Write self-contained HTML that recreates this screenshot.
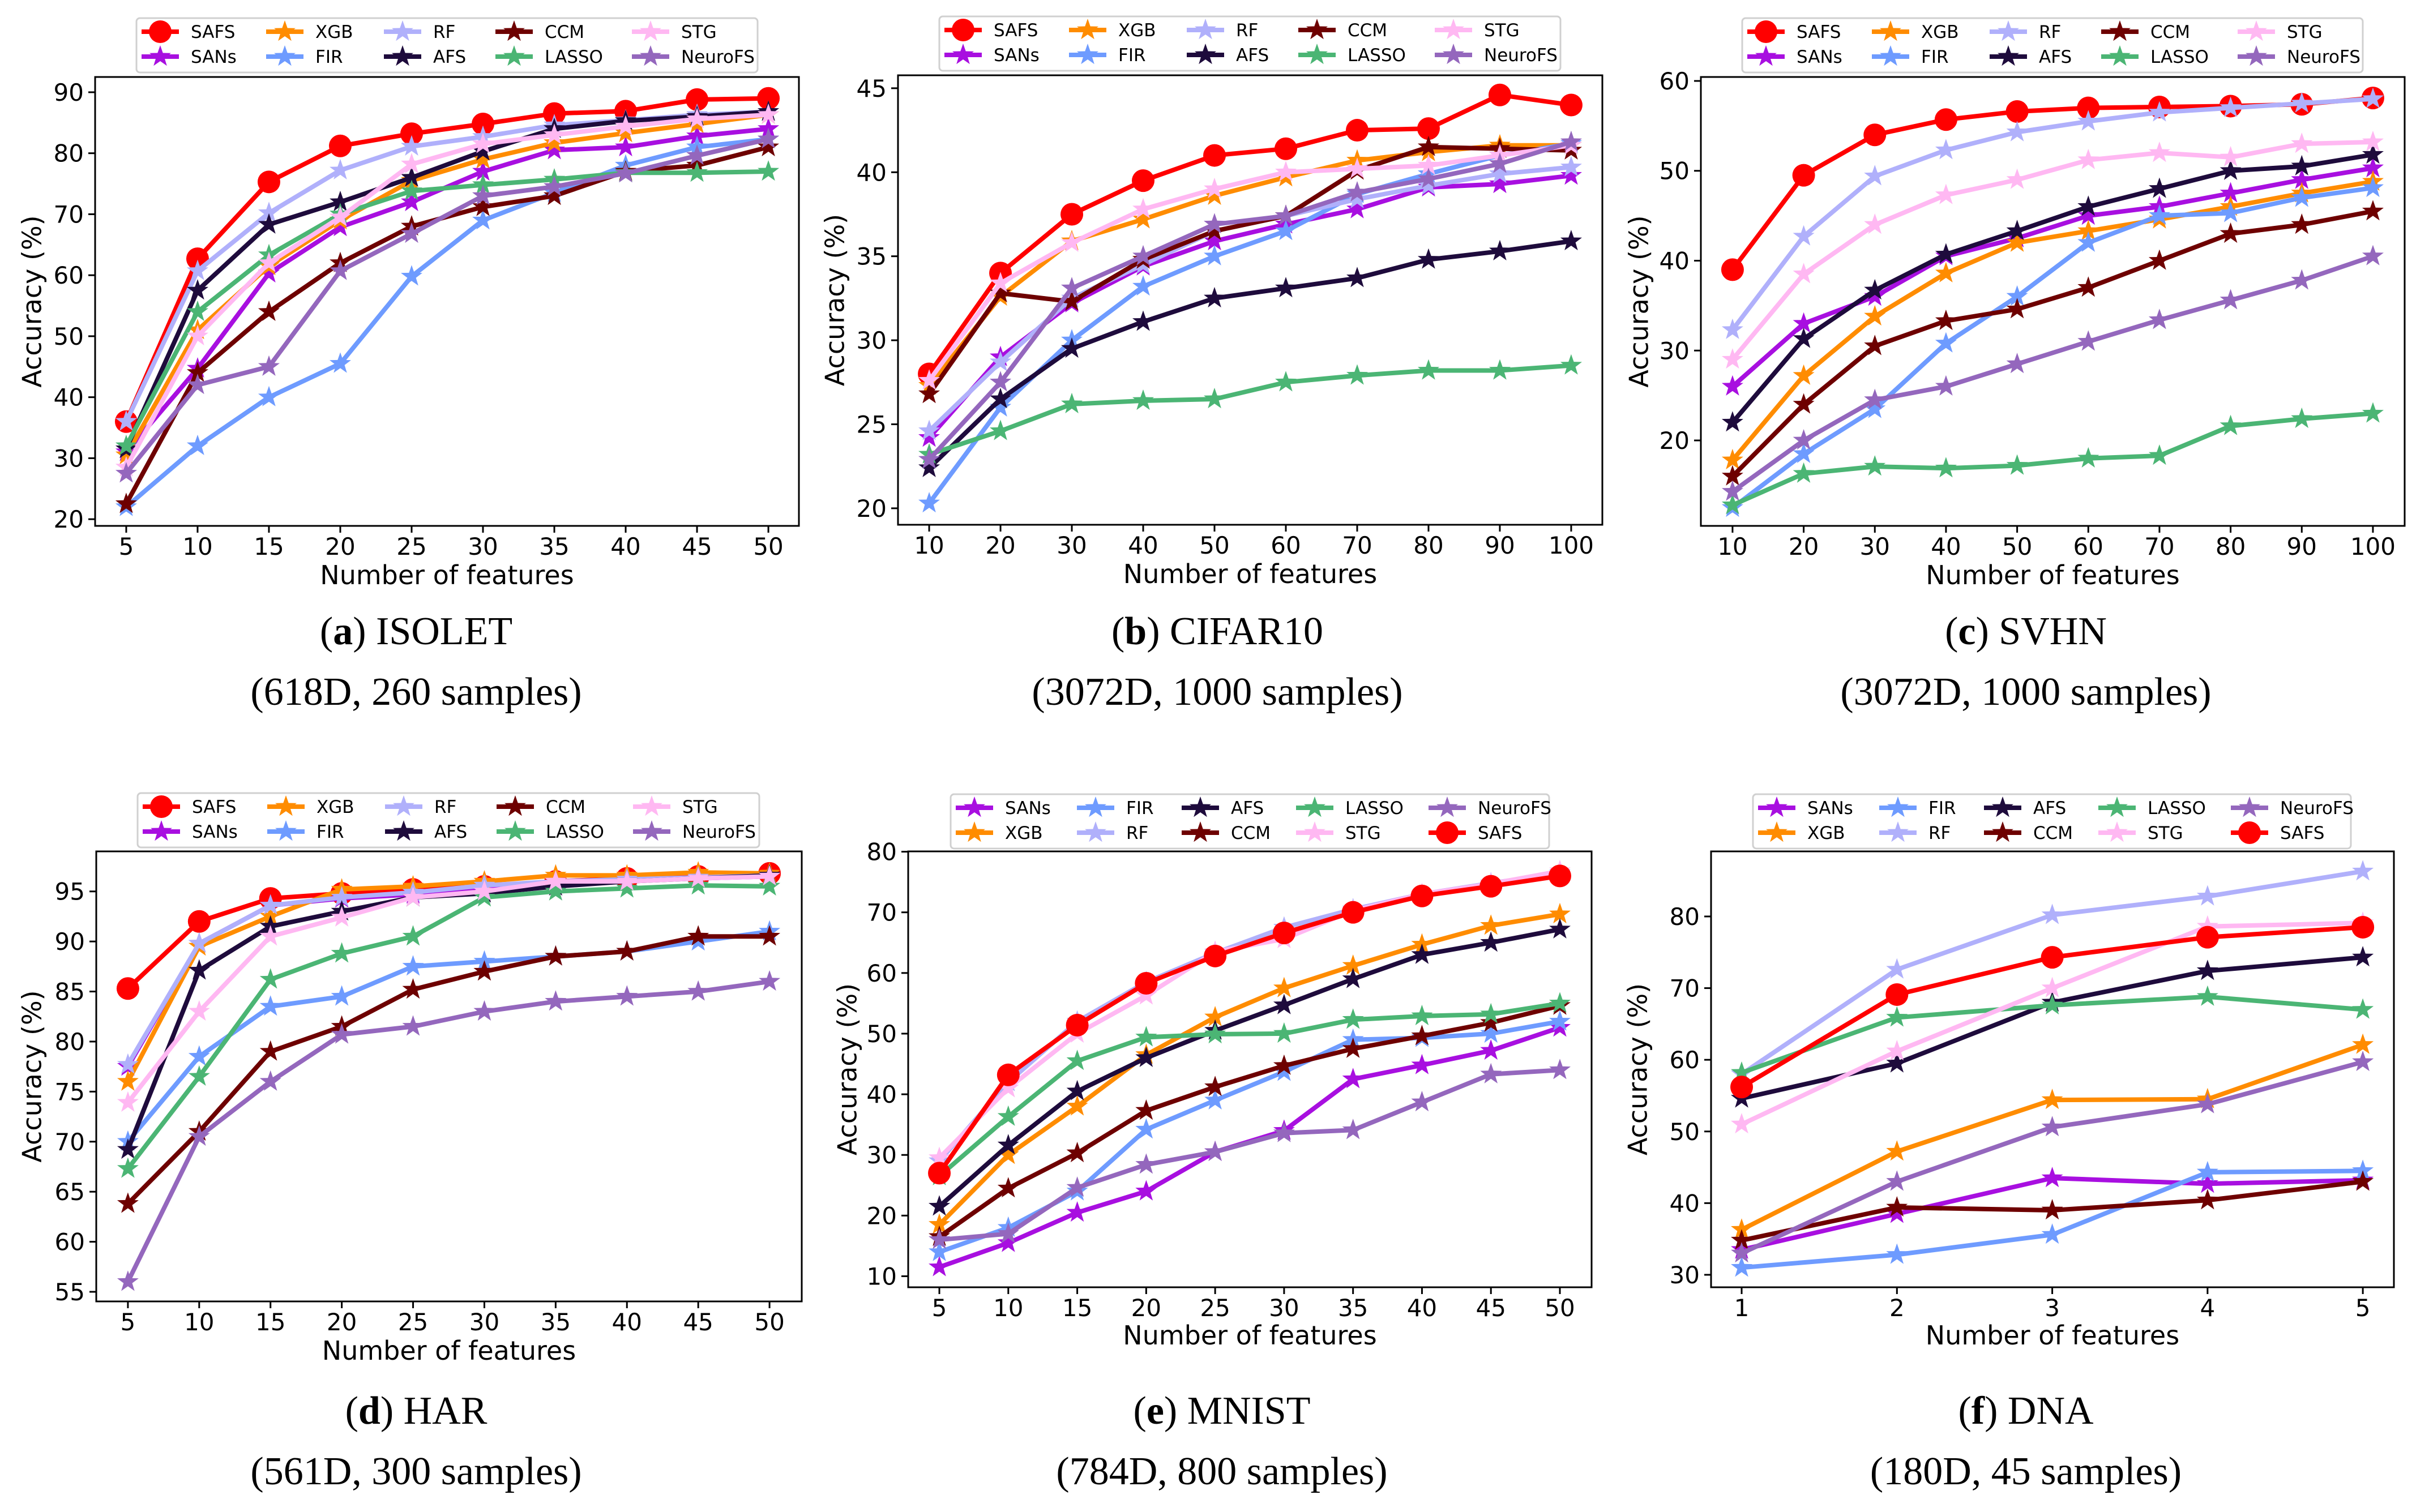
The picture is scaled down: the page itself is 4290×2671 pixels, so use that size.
<!DOCTYPE html>
<html><head><meta charset="utf-8">
<style>
html,body{margin:0;padding:0;background:#fff;}
svg{display:block;}
</style></head>
<body>
<svg id="fig" xmlns="http://www.w3.org/2000/svg" width="4290" height="2671" viewBox="0 0 4290 2671"></svg>
<script>
// ---------- DATA ----------
const methodNames = ["SAFS","SANs","XGB","FIR","RF","AFS","CCM","LASSO","STG","NeuroFS"];
const xFeat50 = [5,10,15,20,25,30,35,40,45,50];
const xFeat100 = [10,20,30,40,50,60,70,80,90,100];
const xFeat5 = [1,2,3,4,5];

// (a) ISOLET
const aSAFS = [36,62.7,75.3,81.2,83.2,84.8,86.5,86.9,88.8,89.0];
const aSANs = [31,44.7,60.3,67.9,72,77,80.5,81,82.8,84];
const aXGB = [30.5,51,61.5,69,75.5,79,81.7,83.3,84.8,86.3];
const aFIR = [22,32,40,45.5,59.8,69,73.5,78,81,82.3];
const aRF = [36,60.7,70.2,77.2,81.1,82.7,84.6,85.4,86.3,86.8];
const aAFS = [31.5,57.5,68.3,72,76,80.3,84,85.3,86,86.8];
const aCCM = [22.5,44,54,62,68,71.2,73,77,78,81];
const aLASSO = [32,54,63.3,70,73.8,74.8,75.7,76.8,76.8,77];
const aSTG = [28.5,50,62,69.5,78.2,81.5,83,84.4,85.6,86.3];
const aNeuroFS = [27.5,42,45,60.7,66.8,73,74.5,76.7,79.6,82.3];
const aTicks = [20,30,40,50,60,70,80,90];

// (b) CIFAR10
const bSAFS = [28,34,37.5,39.5,41,41.4,42.5,42.6,44.6,44];
const bSANs = [24.2,29,32.2,34.4,35.9,36.9,37.8,39.1,39.3,39.8];
const bXGB = [27.3,32.6,35.9,37.2,38.6,39.7,40.7,41.2,41.6,41.6];
const bFIR = [20.3,26,30,33.2,35,36.5,38.7,39.9,41.0,41.7];
const bRF = [24.6,28.7,32.5,34.5,36.5,37.4,38.4,39.2,39.9,40.3];
const bAFS = [22.4,26.5,29.5,31.1,32.5,33.1,33.7,34.8,35.3,35.9];
const bCCM = [26.8,32.8,32.3,34.8,36.5,37.4,40.1,41.5,41.4,41.3];
const bLASSO = [23.2,24.6,26.2,26.4,26.5,27.5,27.9,28.2,28.2,28.5];
const bSTG = [27.6,33.4,35.8,37.8,39.0,40.0,40.2,40.4,41.0,41.6];
const bNeuroFS = [22.9,27.5,33.1,35.0,36.9,37.4,38.8,39.6,40.5,41.8];
const bTicks = [20,25,30,35,40,45];

// (c) SVHN
const cSAFS = [39,49.5,54,55.7,56.6,57,57.1,57.2,57.4,58.1];
const cSANs = [26,33,36,40.5,42.5,45,46,47.5,49,50.3];
const cXGB = [17.8,27.2,33.8,38.6,42,43.3,44.6,46,47.5,48.8];
const cFIR = [12.5,18.5,23.5,30.8,36,42,45,45.3,47,48.1];
const cRF = [32.3,42.7,49.4,52.3,54.3,55.5,56.5,57,57.5,58];
const cAFS = [22,31.3,36.7,40.7,43.3,46,48,50,50.5,51.8];
const cCCM = [16,24,30.5,33.3,34.6,37,40,43,44,45.5];
const cLASSO = [12.8,16.3,17.1,16.9,17.2,18,18.3,21.6,22.4,23];
const cSTG = [29,38.5,44,47.3,49,51.2,52,51.5,53,53.2];
const cNeuroFS = [14.3,20,24.5,26,28.5,31,33.4,35.6,37.8,40.5];
const cTicks = [20,30,40,50,60];

// (d) HAR
const dSAFS = [85.3,92,94.3,94.8,95.2,95.5,96,96.3,96.5,96.8];
const dSANs = [77.5,89.8,93.6,94.3,94.7,95.4,96,96.2,96.3,96.5];
const dXGB = [76,89.5,92.5,95.2,95.5,96,96.6,96.6,96.9,96.8];
const dFIR = [70,78.5,83.5,84.5,87.5,88,88.5,89,90,91];
const dRF = [77.7,89.8,93.6,94.4,94.9,95.6,96,96.2,96.4,96.6];
const dAFS = [69.2,87.1,91.5,93,94.4,94.8,95.5,96,96.3,96.6];
const dCCM = [63.8,71,79,81.5,85.2,87,88.5,89,90.5,90.5];
const dLASSO = [67.3,76.5,86.2,88.8,90.5,94.4,95,95.3,95.6,95.5];
const dSTG = [73.9,83,90.5,92.4,94.4,95,96,96,96.3,96.5];
const dNeuroFS = [56,70.5,76,80.7,81.5,83,84,84.5,85,86];
const dTicks = [55,60,65,70,75,80,85,90,95];

// (e) MNIST
const eSANs = [11.5,15.5,20.5,24,30.5,34,42.5,44.8,47.2,51];
const eXGB = [18.5,30,38,46.5,52.7,57.5,61.2,64.7,67.8,69.7];
const eFIR = [14,18,24,34.2,39,43.7,49,49.3,50,52];
const eRF = [29,42,52,58.5,63.3,67.5,70.5,73,74.8,76.5];
const eAFS = [21.5,31.6,40.5,46,50.5,54.7,59,63,65,67.2];
const eCCM = [16.5,24.5,30.3,37.3,41.2,44.7,47.5,49.6,51.8,54.6];
const eLASSO = [26.5,36.3,45.5,49.4,49.9,50,52.3,52.9,53.2,55];
const eSTG = [29.5,41,50,56.3,63.5,65.6,70.3,73,74.7,76.8];
const eNeuroFS = [16,17,24.6,28.4,30.5,33.6,34.1,38.7,43.3,44];
const eSAFS = [27,43.2,51.4,58.3,62.8,66.6,70,72.7,74.3,76];
const eTicks = [10,20,30,40,50,60,70,80];

// (f) DNA
const fSANs = [33.5,38.5,43.5,42.7,43.2];
const fXGB = [36.3,47.2,54.4,54.5,62.1];
const fFIR = [31,32.8,35.6,44.3,44.5];
const fRF = [58,72.6,80.2,82.8,86.3];
const fAFS = [54.6,59.5,68,72.4,74.3];
const fCCM = [34.8,39.4,39,40.4,43];
const fLASSO = [58.2,65.9,67.6,68.8,67];
const fSTG = [51,61.2,70,78.6,79.1];
const fNeuroFS = [33,43,50.6,53.8,59.7];
const fSAFS = [56.2,69.1,74.3,77.1,78.5];
const fTicks = [30,40,50,60,70,80];

// ---------- STYLE ----------
const colors = {SAFS:"#ff0000",SANs:"#a80fe0",XGB:"#ff8c00",FIR:"#6e9bff",RF:"#b0b0fb",
  AFS:"#1e0b3c",CCM:"#6e0000",LASSO:"#4bb574",STG:"#ffb8f2",NeuroFS:"#9467bd"};

const NS="http://www.w3.org/2000/svg";
const svg=document.getElementById('fig');
function mk(tag,attrs,parent){const e=document.createElementNS(NS,tag);for(const k in attrs)e.setAttribute(k,attrs[k]);(parent||svg).appendChild(e);return e;}
function starPts(cx,cy,R){const r=R*0.4;let p=[];for(let i=0;i<10;i++){const a=-Math.PI/2+i*Math.PI/5;const rr=i%2?r:R;p.push((cx+rr*Math.cos(a)).toFixed(1)+","+(cy+rr*Math.sin(a)).toFixed(1));}return p.join(" ");}
function marker(g,name,cx,cy){
  if(name==="SAFS"){const c=mk('circle',{cx:cx,cy:cy,r:20,fill:colors[name]},g);
    
    return c;}
  const s=mk('polygon',{points:starPts(cx,cy,20),fill:colors[name]},g);
  
  return s;
}
const FONT='"DejaVu Sans","Liberation Sans",sans-serif';

const orderTop=["SAFS","SANs","XGB","FIR","RF","AFS","CCM","LASSO","STG","NeuroFS"];
const orderBot=["SANs","XGB","FIR","RF","AFS","CCM","LASSO","STG","NeuroFS","SAFS"];

const panels=[
 {id:'a',title:'ISOLET',sub:'(618D, 260 samples)',x:xFeat50,series:{SAFS:aSAFS,SANs:aSANs,XGB:aXGB,FIR:aFIR,RF:aRF,AFS:aAFS,CCM:aCCM,LASSO:aLASSO,STG:aSTG,NeuroFS:aNeuroFS},ticks:aTicks,
  L:168,R:1411,T:136,B:929,xd:[2.82,52.14],yd:[18.9,92.5],order:orderTop,leg:[241,32,1097],cols:[9,229,437,634,875],ylab:60,tickY:965,xlabY:1032,capX:735,capY:1138},
 {id:'b',title:'CIFAR10',sub:'(3072D, 1000 samples)',x:xFeat100,series:{SAFS:bSAFS,SANs:bSANs,XGB:bXGB,FIR:bFIR,RF:bRF,AFS:bAFS,CCM:bCCM,LASSO:bLASSO,STG:bSTG,NeuroFS:bNeuroFS},ticks:bTicks,
  L:1586,R:2830,T:133,B:927,xd:[5.63,104.37],yd:[19.02,45.77],order:orderTop,leg:[1659,29,1097],cols:[9,229,437,634,875],ylab:1478,tickY:963,xlabY:1030,capX:2150,capY:1138},
 {id:'c',title:'SVHN',sub:'(3072D, 1000 samples)',x:xFeat100,series:{SAFS:cSAFS,SANs:cSANs,XGB:cXGB,FIR:cFIR,RF:cRF,AFS:cAFS,CCM:cCCM,LASSO:cLASSO,STG:cSTG,NeuroFS:cNeuroFS},ticks:cTicks,
  L:3004,R:4247,T:136,B:929,xd:[5.55,104.46],yd:[10.49,60.44],order:orderTop,leg:[3077,32,1096],cols:[9,229,437,634,875],ylab:2898,tickY:965,xlabY:1032,capX:3578,capY:1138},
 {id:'d',title:'HAR',sub:'(561D, 300 samples)',x:xFeat50,series:{SAFS:dSAFS,SANs:dSANs,XGB:dXGB,FIR:dFIR,RF:dRF,AFS:dAFS,CCM:dCCM,LASSO:dLASSO,STG:dSTG,NeuroFS:dNeuroFS},ticks:dTicks,
  L:170,R:1416,T:1504,B:2299,xd:[2.78,52.26],yd:[54.04,99.0],order:orderTop,leg:[243,1401,1098],cols:[9,229,437,634,875],ylab:60,tickY:2335,xlabY:2402,capX:735,capY:2515},
 {id:'e',title:'MNIST',sub:'(784D, 800 samples)',x:xFeat50,series:{SANs:eSANs,XGB:eXGB,FIR:eFIR,RF:eRF,AFS:eAFS,CCM:eCCM,LASSO:eLASSO,STG:eSTG,NeuroFS:eNeuroFS,SAFS:eSAFS},ticks:eTicks,
  L:1604,R:2811,T:1504,B:2274,xd:[2.74,52.30],yd:[8.18,80.05],order:orderBot,leg:[1679,1403,1057],cols:[9,223,408,610,844],ylab:1500,tickY:2310,xlabY:2375,capX:2158,capY:2515},
 {id:'f',title:'DNA',sub:'(180D, 45 samples)',x:xFeat5,series:{SANs:fSANs,XGB:fXGB,FIR:fFIR,RF:fRF,AFS:fAFS,CCM:fCCM,LASSO:fLASSO,STG:fSTG,NeuroFS:fNeuroFS,SAFS:fSAFS},ticks:fTicks,
  L:3022,R:4228,T:1504,B:2274,xd:[0.803,5.2],yd:[28.26,89.08],order:orderBot,leg:[3096,1403,1056],cols:[9,223,408,610,844],ylab:2896,tickY:2310,xlabY:2375,capX:3578,capY:2515}
];

panels.forEach(p=>{
  const g=mk('g',{});
  
  
  const sx=v=>p.L+(v-p.xd[0])/(p.xd[1]-p.xd[0])*(p.R-p.L);
  const sy=v=>p.B-(v-p.yd[0])/(p.yd[1]-p.yd[0])*(p.B-p.T);
  p.order.forEach(name=>{
    const vals=p.series[name];
    const sg=mk('g',{},g);
    
    
    const pts=vals.map((v,i)=>sx(p.x[i]).toFixed(1)+','+sy(v).toFixed(1)).join(' ');
    const pl=mk('polyline',{points:pts,fill:'none',stroke:colors[name],'stroke-width':8,'stroke-linejoin':'round'},sg);
    
    
    vals.forEach((v,i)=>marker(sg,name,sx(p.x[i]),sy(v)));
  });
  const fr=mk('rect',{x:p.L,y:p.T,width:p.R-p.L,height:p.B-p.T,fill:'none',stroke:'#000','stroke-width':3},g);
  
  
  p.x.forEach(v=>{
    const X=sx(v);
    mk('line',{x1:X,y1:p.B,x2:X,y2:p.B+12,stroke:'#000','stroke-width':3},g);
    const t=mk('text',{x:X,y:p.tickY+15,'text-anchor':'middle','font-family':FONT,'font-size':42,fill:'#000'},g);
    t.textContent=v;
    
    
  });
  p.ticks.forEach(v=>{
    const Y=sy(v);
    mk('line',{x1:p.L-12,y1:Y,x2:p.L,y2:Y,stroke:'#000','stroke-width':3},g);
    const t=mk('text',{x:p.L-20,y:Y+15,'text-anchor':'end','font-family':FONT,'font-size':42,fill:'#000'},g);
    t.textContent=v;
    
    
  });
  const xl=mk('text',{x:(p.L+p.R)/2,y:p.xlabY,'text-anchor':'middle','font-family':FONT,'font-size':46,fill:'#000'},g);
  xl.textContent='Number of features';
  
  
  const yc=(p.T+p.B)/2;
  const yl=mk('text',{x:p.ylab,y:yc,'text-anchor':'middle','font-family':FONT,'font-size':46,fill:'#000',transform:'rotate(-90 '+p.ylab+' '+yc+')','dominant-baseline':'middle'},g);
  yl.textContent='Accuracy (%)';
  
  
  const [lx,ly,lw]=p.leg;
  const lg=mk('g',{},g);
  
  
  mk('rect',{x:lx,y:ly,width:lw,height:96,rx:6,fill:'#fff',stroke:'#d0d0d0','stroke-width':3},lg);
  p.order.forEach((name,i)=>{
    const col=Math.floor(i/2),row=i%2;
    const hx=lx+p.cols[col], cy=ly+24+row*44;
    const eg=mk('g',{},lg);
    
    
    mk('line',{x1:hx,y1:cy,x2:hx+66,y2:cy,stroke:colors[name],'stroke-width':8},eg);
    marker(eg,name,hx+33,cy);
    const t=mk('text',{x:hx+87,y:cy+11,'font-family':FONT,'font-size':31,fill:'#000'},eg);
    t.textContent=name;
  });
  const c1=mk('text',{x:p.capX,y:p.capY,'text-anchor':'middle','font-family':'"Liberation Serif",serif','font-size':70,fill:'#000'},g);
  
  
  c1.innerHTML='(<tspan font-weight="bold">'+p.id+'</tspan>) '+p.title;
  const c2=mk('text',{x:p.capX,y:p.capY+107,'text-anchor':'middle','font-family':'"Liberation Serif",serif','font-size':70,fill:'#000'},g);
  
  
  c2.textContent=p.sub;
});
</script>
</body></html>
